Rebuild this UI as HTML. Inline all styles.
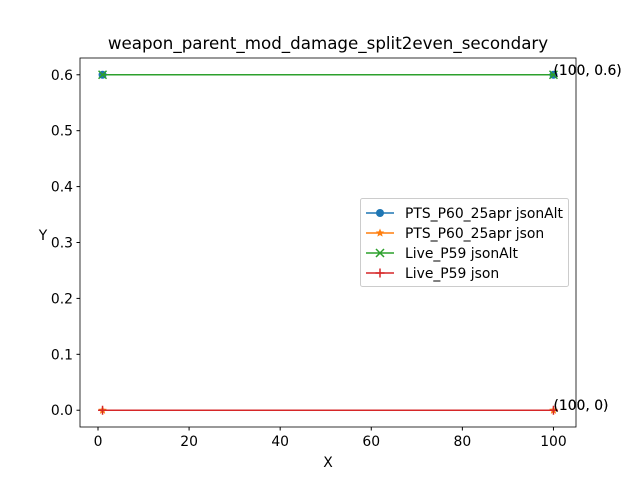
<!DOCTYPE html>
<html><head><meta charset="utf-8"><style>body{margin:0;background:#fff}svg{display:block;font-family:"DejaVu Sans","Liberation Sans",sans-serif}</style></head>
<body>
<svg id="c" width="640" height="480"></svg>
<script>
const xs=[1,100];
const seriesNames=["PTS_P60_25apr jsonAlt","PTS_P60_25apr json","Live_P59 jsonAlt","Live_P59 json"];
const s0=[0.6,0.6],s1=[0,0],s2=[0.6,0.6],s3=[0,0];
const xTicks=[0,20,40,60,80,100];
const yTicks=[0.0,0.1,0.2,0.3,0.4,0.5,0.6];
const colors=["#1f77b4","#ff7f0e","#2ca02c","#d62728"];
const markers=["o","*","x","+"];
const L=80,R=576,T=58,B=427;
const xmin=-3.95,xmax=104.95,ymin=-0.03,ymax=0.63;
const X=v=>L+(v-xmin)/(xmax-xmin)*(R-L);
const Y=v=>B-(v-ymin)/(ymax-ymin)*(B-T);
const svg=document.getElementById('c');const NS="http://www.w3.org/2000/svg";
function el(t,a,p){const e=document.createElementNS(NS,t);for(const k in a)e.setAttribute(k,a[k]);(p||svg).appendChild(e);return e;}
function txt(s,a,p){const e=el('text',a,p);e.textContent=s;return e;}
function mark(m,x,y,c,g){
 if(m=="o")el('circle',{cx:x,cy:y,r:4,fill:c},g);
 else if(m=="*"){let pts=[];for(let i=0;i<10;i++){const r=i%2?2:4.5,a=-Math.PI/2+i*Math.PI/5;pts.push((x+r*Math.cos(a)).toFixed(2)+","+(y+r*Math.sin(a)).toFixed(2));}el('polygon',{points:pts.join(" "),fill:c},g);}
 else if(m=="x"){el('path',{d:`M${x-4} ${y-4}L${x+4} ${y+4}M${x-4} ${y+4}L${x+4} ${y-4}`,stroke:c,'stroke-width':1.5},g);}
 else el('path',{d:`M${x-4.5} ${y}L${x+4.5} ${y}M${x} ${y-4.5}L${x} ${y+4.5}`,stroke:c,'stroke-width':1.5},g);
}
const ax=el('g',{});
xTicks.forEach(v=>{const x=X(v);el('line',{x1:x,x2:x,y1:B,y2:B+3.5,stroke:'#000'},ax);const t=txt(v,{x:x,y:B+19,'font-size':13.9,'text-anchor':'middle'},ax);});
yTicks.forEach(v=>{const y=Y(v);el('line',{x1:L-3.5,x2:L,y1:y,y2:y,stroke:'#000'},ax);const t=txt(v.toFixed(1),{x:L-7,y:y+5,'font-size':13.9,'text-anchor':'end'},ax);});
const data=[s0,s1,s2,s3];
data.forEach((s,i)=>{const g=el('g',{});
 el('polyline',{points:xs.map((x,j)=>X(x)+","+Y(s[j])).join(" "),fill:'none',stroke:colors[i],'stroke-width':1.5},g);
 xs.forEach((x,j)=>mark(markers[i],X(x),Y(s[j]),colors[i],g));});
data.forEach((s,i)=>{const v=s[1];const t=txt(`(${xs[1]}, ${v})`,{x:X(xs[1]),y:Y(v),'font-size':13.9},svg);});
el('rect',{x:L,y:T,width:R-L,height:B-T,fill:'none',stroke:'#000','stroke-width':0.8});
const ti=txt("weapon_parent_mod_damage_split2even_secondary",{x:(L+R)/2,y:49,'font-size':16.7,'text-anchor':'middle'});
const xl=txt("X",{x:(L+R)/2,y:467,'font-size':13.9,'text-anchor':'middle'});
const yl=txt("Y",{x:43,y:240,'font-size':13.9,'text-anchor':'middle'});
const lg=el('g',{});
el('rect',{x:360.5,y:198.5,width:208,height:88,rx:2,fill:'#fff',stroke:'#ccc'},lg);
seriesNames.forEach((n,i)=>{const y=213+i*20;const e=el('g',{},lg);
 el('line',{x1:366,x2:394,y1:y,y2:y,stroke:colors[i],'stroke-width':1.5},e);mark(markers[i],380,y,colors[i],e);
 txt(n,{x:405,y:y+5,'font-size':13.9},e);});
</script>
</body></html>
